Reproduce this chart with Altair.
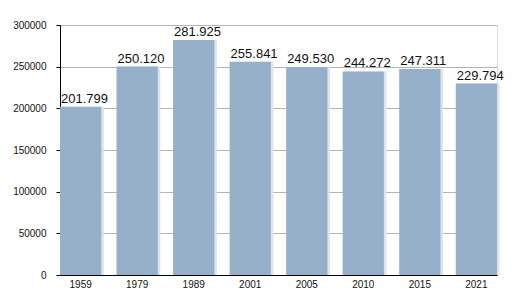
import altair as alt
import pandas as pd

years = ["1959", "1979", "1989", "2001", "2005", "2010", "2015", "2021"]
population = [201799, 250120, 281925, 255841, 249530, 244272, 247311, 229794]
y_ticks = [0, 25000, 50000, 75000, 100000, 125000, 150000, 175000, 200000,
           225000, 250000, 275000, 300000]

df = pd.DataFrame({"year": years, "pop": population})

x = alt.X("year:N", sort=None, title=None,
          scale=alt.Scale(paddingInner=0.27, paddingOuter=0.0),
          axis=alt.Axis(labelAngle=0, ticks=False, domainColor="#000000",
                        domainWidth=1, labelFontSize=10, labelPadding=4,
                        labelColor="#111111", labelFont="Liberation Sans"))

y = alt.Y("pop:Q", title=None,
          scale=alt.Scale(domain=[0, 300000], nice=False),
          axis=alt.Axis(values=y_ticks, format="d",
                        labelExpr="datum.value % 50000 === 0 ? datum.label : ''",
                        grid=True,
                        gridColor={"expr": "datum.value % 50000 === 0 ? '#b4b4b4' : '#e6e6e6'"},
                        gridWidth=1,
                        tickColor="#000000", tickSize=4, domainColor="#000000",
                        labelFontSize=10, labelPadding=10, labelColor="#111111",
                        labelFont="Liberation Sans"))

base = alt.Chart(df)

shadow = base.mark_bar(color="#dde3ea", xOffset=2.5).encode(x=x, y=y)
bars = base.mark_bar(color="#96b0ca").encode(x=x, y=y)
labels = base.transform_calculate(
    lbl="replace(format(datum.pop, ','), ',', '.')"
).mark_text(align="left", baseline="alphabetic", dx=1, dy=-4,
            fontSize=13, font="Liberation Sans", color="#111111").encode(
    x=alt.X("year:N", sort=None, bandPosition=0),
    y="pop:Q",
    text="lbl:N",
)

chart = alt.layer(shadow, bars, labels).properties(
    width=437, height=250, autosize="none",
    padding={"left": 60, "top": 25, "right": 23, "bottom": 25},
).configure_view(stroke=None).configure(background="#ffffff")

chart.save("out.html", embed_options={"renderer": "svg", "actions": False})
